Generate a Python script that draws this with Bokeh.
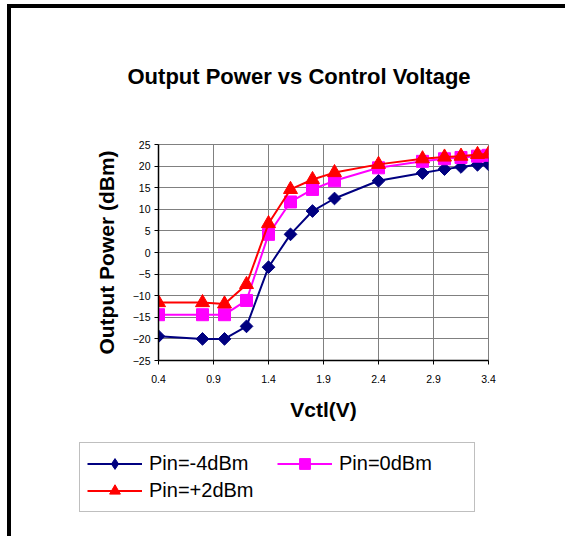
from bokeh.plotting import figure
from bokeh.layouts import column
from bokeh.embed import file_html
from bokeh.resources import INLINE
from bokeh.models import Range1d, FixedTicker, Legend, LegendItem

# ---- data ----
vctl = [0.4, 0.8, 1.0, 1.2, 1.4, 1.6, 1.8, 2.0, 2.4, 2.8, 3.0, 3.15, 3.3, 3.4]
pin_m4 = [-19.4, -20.0, -20.0, -17.1, -3.4, 4.2, 9.6, 12.5, 16.6, 18.4, 19.3, 19.8, 20.3, 20.4]
pin_0 = [-14.4, -14.4, -14.4, -11.1, 4.2, 11.7, 14.6, 16.6, 19.6, 21.1, 21.7, 22.0, 22.3, 22.5]
pin_p2 = [-11.6, -11.6, -11.9, -7.4, 6.7, 14.6, 16.9, 18.5, 20.4, 21.7, 22.1, 22.3, 22.7, 22.8]
series_names = ["Pin=-4dBm", "Pin=0dBm", "Pin=+2dBm"]
x_ticks = [0.4, 0.9, 1.4, 1.9, 2.4, 2.9, 3.4]
y_ticks = [-25, -20, -15, -10, -5, 0, 5, 10, 15, 20, 25]

FONT = "Liberation Sans"
navy, mag, red = "#000080", "#FF00FF", "#FF0000"

# ---------------- main chart ----------------
p = figure(width=565, height=436, output_backend="svg", toolbar_location=None,
           x_range=Range1d(0.4, 3.4), y_range=Range1d(-25, 25),
           min_border_left=158, min_border_right=77,
           min_border_top=144, min_border_bottom=76,
           title="Output Power vs Control Voltage")
p.border_fill_color = None

p.title.text_font = FONT
p.title.text_font_size = "22px"
p.title.text_font_style = "bold"
p.title.text_color = "black"
p.title.align = "left"
p.title.offset = -31
p.title.standoff = 111

p.background_fill_color = "white"
p.outline_line_color = "#808080"
p.outline_line_width = 1

for ax in (p.xaxis[0], p.yaxis[0]):
    ax.axis_line_color = "black"
    ax.axis_line_width = 1.5
    ax.major_tick_line_color = "black"
    ax.major_tick_in = 0
    ax.major_tick_out = 4
    ax.minor_tick_line_color = None
    ax.major_label_text_font = FONT
    ax.major_label_text_font_size = "10.5px"
    ax.major_label_text_color = "black"
    ax.axis_label_text_font = FONT
    ax.axis_label_text_font_size = "21px"
    ax.axis_label_text_font_style = "bold"
    ax.axis_label_text_color = "black"

p.xaxis[0].ticker = FixedTicker(ticks=x_ticks)
p.yaxis[0].ticker = FixedTicker(ticks=y_ticks)
p.xaxis[0].major_label_overrides = {t: f"{t:.1f}" for t in x_ticks}
p.xaxis[0].axis_label = "Vctl(V)"
p.yaxis[0].axis_label = "Output Power (dBm)"
p.xaxis[0].major_label_standoff = 10
p.yaxis[0].major_label_standoff = 4
p.xaxis[0].axis_label_standoff = 12
p.yaxis[0].axis_label_standoff = 12

p.xgrid.ticker = FixedTicker(ticks=x_ticks)
p.ygrid.ticker = FixedTicker(ticks=y_ticks)
p.xgrid.grid_line_color = "#808080"
p.ygrid.grid_line_color = "#808080"

p.line(vctl, pin_m4, line_color=navy, line_width=2)
p.scatter(vctl, pin_m4, marker="square", size=9, angle=0.785398,
          fill_color=navy, line_color=navy)
p.line(vctl, pin_0, line_color=mag, line_width=2)
p.scatter(vctl, pin_0, marker="square", size=12, fill_color=mag, line_color=mag)
p.line(vctl, pin_p2, line_color=red, line_width=2)
p.scatter(vctl, pin_p2, marker="triangle", size=14, fill_color=red, line_color=red)

# ---------------- legend strip below the chart ----------------
q = figure(width=565, height=100, output_backend="svg", toolbar_location=None,
           x_range=Range1d(10, 11), y_range=Range1d(10, 11),
           x_axis_type=None, y_axis_type=None,
           min_border_left=0, min_border_right=0, min_border_top=0, min_border_bottom=0)
q.background_fill_color = None
q.border_fill_color = None
q.outline_line_color = None
for fig in (p, q):
    if "frame_align" in fig.properties():
        fig.frame_align = False

k1 = q.line(vctl, pin_m4, line_color=navy, line_width=2)
s1 = q.scatter(vctl, pin_m4, marker="diamond", fill_color=navy, line_color=navy)
k2 = q.line(vctl, pin_0, line_color=mag, line_width=2)
s2 = q.scatter(vctl, pin_0, marker="square", fill_color=mag, line_color=mag)
k3 = q.line(vctl, pin_p2, line_color=red, line_width=2)
s3 = q.scatter(vctl, pin_p2, marker="triangle", fill_color=red, line_color=red)

legend = Legend(items=[LegendItem(label=series_names[0], renderers=[k1, s1]),
                       LegendItem(label=series_names[1], renderers=[k2, s2]),
                       LegendItem(label=series_names[2], renderers=[k3, s3])],
                location=(79, 24), orientation="horizontal", ncols=2)
legend.label_text_font = FONT
legend.label_text_font_size = "20px"
legend.label_text_color = "black"
legend.label_standoff = 7
legend.label_width = 128
legend.label_height = 20
legend.glyph_width = 55
legend.glyph_height = 27
legend.spacing = 0
legend.padding = 7
legend.margin = 0
legend.border_line_color = "#808080"
legend.border_line_width = 1
legend.background_fill_color = "white"
q.add_layout(legend, "center")

page = column(p, q, spacing=0)
# thick black frame line on the left and top of the chart area
page.styles = {"background-color": "white",
               "box-shadow": "inset 7px 4px 0 0 white, inset 11px 8px 0 0 black"}

open("out.html", "w").write(file_html(page, INLINE))
